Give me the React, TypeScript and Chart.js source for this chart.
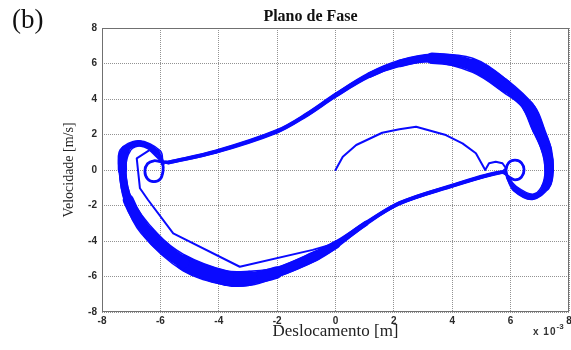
import { useEffect, useRef } from "react";
import { Chart, registerables } from "chart.js";

Chart.register(...registerables);

// Axis range (displacement in units of 1e-3 m, velocity in m/s)
const AXIS_MIN = -8;
const AXIS_MAX = 8;
const AXIS_STEP = 2;

// Steady-state cycle: centre line of the thick band and its two edges.
// Stations correspond one-to-one between the three lists.
const cycleCenter: [number, number][] = [
  [-5.72, 0.42], [-4.1, 1.03], [-2.03, 2.16], [-1.0, 3.1], [0.02, 4.23],
  [1.16, 5.35], [2.2, 6.0], [3.3, 6.3], [4.7, 5.9], [5.84, 4.7],
  [6.6, 3.57], [6.96, 2.25], [7.23, 1.13], [7.32, 0], [7.2, -0.94],
  [6.75, -1.52], [6.15, -1.05], [5.9, -0.4], [5.84, 0.0], [5.93, 0.4],
  [6.15, 0.56], [6.37, 0.4], [6.46, 0.0], [6.37, -0.4], [6.15, -0.56],
  [5.95, -0.4], [5.7, -0.12], [3.9, -0.94], [2.2, -1.87], [1.05, -3.0],
  [0.02, -4.2], [-0.66, -4.83], [-2.03, -5.78], [-2.94, -6.1], [-3.74, -6.1],
  [-5.22, -5.2], [-6.4, -3.57], [-7.1, -1.69], [-7.3, 0], [-7.2, 1.13],
  [-6.7, 1.5], [-6.1, 1.0], [-5.92, 0.35], [-5.91, -0.07], [-6.0, -0.5],
  [-6.22, -0.66], [-6.44, -0.5], [-6.53, -0.07], [-6.44, 0.35], [-6.22, 0.52],
  [-6.0, 0.47],
];

const cycleOuter: [number, number][] = [
  [-5.72, 0.5], [-4.1, 1.11], [-2.03, 2.25], [-1.0, 3.2], [0.02, 4.34],
  [1.16, 5.48], [2.2, 6.18], [3.3, 6.52], [4.7, 6.3], [5.84, 5.12],
  [6.83, 3.57], [7.17, 2.25], [7.4, 1.13], [7.46, 0], [7.34, -0.94],
  [6.75, -1.66], [6.1, -1.17], [5.87, -0.4], [5.84, 0.0], [5.93, 0.4],
  [6.15, 0.56], [6.37, 0.4], [6.46, 0.0], [6.37, -0.4], [6.15, -0.56],
  [5.95, -0.4], [5.7, -0.18], [3.9, -1.02], [2.2, -1.95], [1.05, -3.1],
  [0.02, -4.4], [-0.66, -5.1], [-2.03, -6.05], [-2.94, -6.5], [-3.74, -6.49],
  [-5.22, -5.68], [-6.66, -3.57], [-7.24, -1.69], [-7.41, 0], [-7.38, 1.13],
  [-6.75, 1.65], [-6.0, 1.08], [-5.92, 0.35], [-5.91, -0.07], [-6.0, -0.5],
  [-6.22, -0.66], [-6.44, -0.5], [-6.53, -0.07], [-6.44, 0.35], [-6.22, 0.52],
  [-6.0, 0.47],
];

const cycleInner: [number, number][] = [
  [-5.72, 0.35], [-4.1, 0.95], [-2.03, 2.07], [-1.0, 3.0], [0.02, 4.12],
  [1.16, 5.22], [2.2, 5.84], [3.3, 6.09], [4.7, 5.5], [5.84, 4.28],
  [6.38, 3.57], [6.75, 2.25], [7.06, 1.13], [7.18, 0], [7.06, -0.94],
  [6.75, -1.36], [6.2, -0.93], [5.93, -0.4], [5.84, 0.0], [5.93, 0.4],
  [6.15, 0.56], [6.37, 0.4], [6.46, 0.0], [6.37, -0.4], [6.15, -0.56],
  [5.95, -0.4], [5.7, -0.06], [3.9, -0.86], [2.2, -1.79], [1.05, -2.9],
  [0.02, -4.0], [-0.66, -4.55], [-2.03, -5.5], [-2.94, -5.7], [-3.74, -5.68],
  [-5.22, -4.74], [-6.11, -3.57], [-6.96, -1.69], [-7.19, 0], [-7.01, 1.13],
  [-6.66, 1.34], [-6.18, 0.92], [-5.92, 0.35], [-5.91, -0.07], [-6.0, -0.5],
  [-6.22, -0.66], [-6.44, -0.5], [-6.53, -0.07], [-6.44, 0.35], [-6.22, 0.52],
  [-6.0, 0.47],
];

// Start-up path from rest at the origin until it settles onto the cycle
const transient: [number, number][] = [
  [0, 0], [0.25, 0.75], [0.71, 1.41], [1.6, 2.1], [2.19, 2.29], [2.76, 2.44],
  [3.78, 1.97], [4.35, 1.5], [4.81, 0.94], [5.13, 0], [5.26, 0.38],
  [5.49, 0.47], [5.72, 0.38], [5.84, 0.1], [5.7, -0.12], [3.9, -0.94],
  [2.2, -1.87], [1.05, -3.0], [0.02, -4.12], [-0.78, -4.5], [-3.28, -5.45],
  [-5.56, -3.57], [-6.42, -1.69], [-6.7, -1.03], [-6.81, 0.66], [-6.36, 1.13],
  [-5.96, 0.47],
];

const TITLE = "Plano de Fase";
const X_LABEL = "Deslocamento [m]";
const Y_LABEL = "Velocidade [m/s]";
const PANEL_TAG = "(b)";

const BLUE = "rgb(10, 10, 255)";
const GRID = "rgba(110, 110, 110, 0.75)";

const toPoints = (pts: [number, number][]) => pts.map(([x, y]) => ({ x, y }));
const closeLoop = (pts: [number, number][]) => [...pts, pts[0]];

const frame = {
  id: "frame",
  beforeDatasetsDraw(chart: any) {
    const { ctx, chartArea } = chart;
    const { left, top, right, bottom } = chartArea;
    ctx.save();
    ctx.strokeStyle = "#707070";
    ctx.lineWidth = 1;
    ctx.setLineDash([]);
    ctx.strokeRect(left + 0.5, top + 0.5, right - left - 1, bottom - top - 1);
    ctx.restore();
  },
};

export default function App() {
  const canvasRef = useRef<HTMLCanvasElement | null>(null);

  useEffect(() => {
    if (!canvasRef.current) return;
    const outer = closeLoop(cycleOuter);
    const inner = closeLoop(cycleInner);

    // Stroke width of the band centre: the band's thickness across the segment
    const bandWidth = (ctx: any) => {
      const chart = ctx.chart;
      const xs = chart.scales.x;
      const ys = chart.scales.y;
      const dx = ctx.p1.x - ctx.p0.x;
      const dy = ctx.p1.y - ctx.p0.y;
      const len = Math.hypot(dx, dy) || 1;
      const nx = -dy / len;
      const ny = dx / len;
      const across = (k: number) => {
        const ox = xs.getPixelForValue(outer[k][0]);
        const oy = ys.getPixelForValue(outer[k][1]);
        const ix = xs.getPixelForValue(inner[k][0]);
        const iy = ys.getPixelForValue(inner[k][1]);
        return Math.abs((ox - ix) * nx + (oy - iy) * ny);
      };
      const w = (across(ctx.p0DataIndex) + across(ctx.p1DataIndex)) / 2;
      return Math.max(2.8, w + 0.8);
    };

    const line = (data: any[], width: number, tension: number, extra: any = {}) => ({
      data,
      showLine: true,
      borderColor: BLUE,
      backgroundColor: BLUE,
      borderWidth: width,
      pointRadius: 0,
      pointHoverRadius: 0,
      tension,
      borderJoinStyle: "round",
      borderCapStyle: "round",
      fill: false,
      ...extra,
    });

    const chart = new Chart(canvasRef.current, {
      type: "scatter",
      data: {
        datasets: [
          line(toPoints(transient), 2, 0),
          line(toPoints(outer), 1.5, 0.35),
          line(toPoints(inner), 1.5, 0.35),
          line(toPoints(closeLoop(cycleCenter)), 3, 0.35, {
            segment: { borderWidth: bandWidth },
          }),
        ],
      },
      options: {
        animation: false,
        responsive: false,
        devicePixelRatio: 1,
        events: [],
        layout: { padding: { left: 52, right: 2, top: 0, bottom: 0 } },
        plugins: {
          legend: { display: false },
          tooltip: { enabled: false },
          title: {
            display: true,
            text: TITLE,
            color: "#111",
            font: { family: "'Liberation Serif', serif", size: 16, weight: "bold" },
            padding: { top: 7, bottom: 1.8 },
          },
        },
        scales: {
          x: {
            type: "linear",
            min: AXIS_MIN,
            max: AXIS_MAX,
            ticks: {
              stepSize: AXIS_STEP,
              autoSkip: false,
              maxRotation: 0,
              padding: 3,
              color: "#2a2a2a",
              font: { family: "'Liberation Sans', sans-serif", size: 10, weight: "bold" },
            },
            grid: { color: GRID, lineWidth: 1, drawTicks: false },
            border: { display: false, dash: [1, 1] },
            title: {
              display: true,
              text: X_LABEL,
              color: "#222",
              font: { family: "'Liberation Serif', serif", size: 17 },
              padding: { top: 0, bottom: 8 },
            },
            afterFit(scale: any) {
              scale.height = 38;
              scale.paddingLeft = 0;
              scale.paddingRight = 0;
            },
          },
          y: {
            type: "linear",
            min: AXIS_MIN,
            max: AXIS_MAX,
            ticks: {
              stepSize: AXIS_STEP,
              autoSkip: false,
              padding: 5,
              color: "#2a2a2a",
              font: { family: "'Liberation Sans', sans-serif", size: 10, weight: "bold" },
            },
            grid: { color: GRID, lineWidth: 1, drawTicks: false },
            border: { display: false, dash: [1, 1] },
            title: {
              display: true,
              text: Y_LABEL,
              color: "#222",
              font: { family: "'Liberation Serif', serif", size: 14 },
              padding: { top: 9, bottom: 0 },
            },
            afterFit(scale: any) {
              scale.width = 50;
              scale.paddingTop = 0;
              scale.paddingBottom = 0;
            },
          },
        },
      },
      plugins: [frame],
    } as any);

    return () => chart.destroy();
  }, []);

  return (
    <div
      style={{
        position: "fixed",
        left: 0,
        top: 0,
        width: 571,
        height: 350,
        background: "#fff",
        overflow: "hidden",
      }}
    >
      <canvas ref={canvasRef} width={571} height={350} style={{ width: 571, height: 350, display: "block" }} />
      <div
        style={{
          position: "absolute",
          left: 12,
          top: 6,
          fontFamily: "'Liberation Serif', serif",
          fontSize: 27,
          lineHeight: "27px",
          color: "#111",
        }}
      >
        {PANEL_TAG}
      </div>
      <div
        style={{
          position: "absolute",
          left: 533,
          top: 326,
          fontFamily: "'Liberation Sans', sans-serif",
          fontWeight: "bold",
          fontSize: 10,
          lineHeight: "12px",
          letterSpacing: 1,
          color: "#333",
          whiteSpace: "nowrap",
        }}
      >
        x 10
        <span style={{ position: "relative", top: -6, fontSize: 8, letterSpacing: 0 }}>-3</span>
      </div>
    </div>
  );
}
